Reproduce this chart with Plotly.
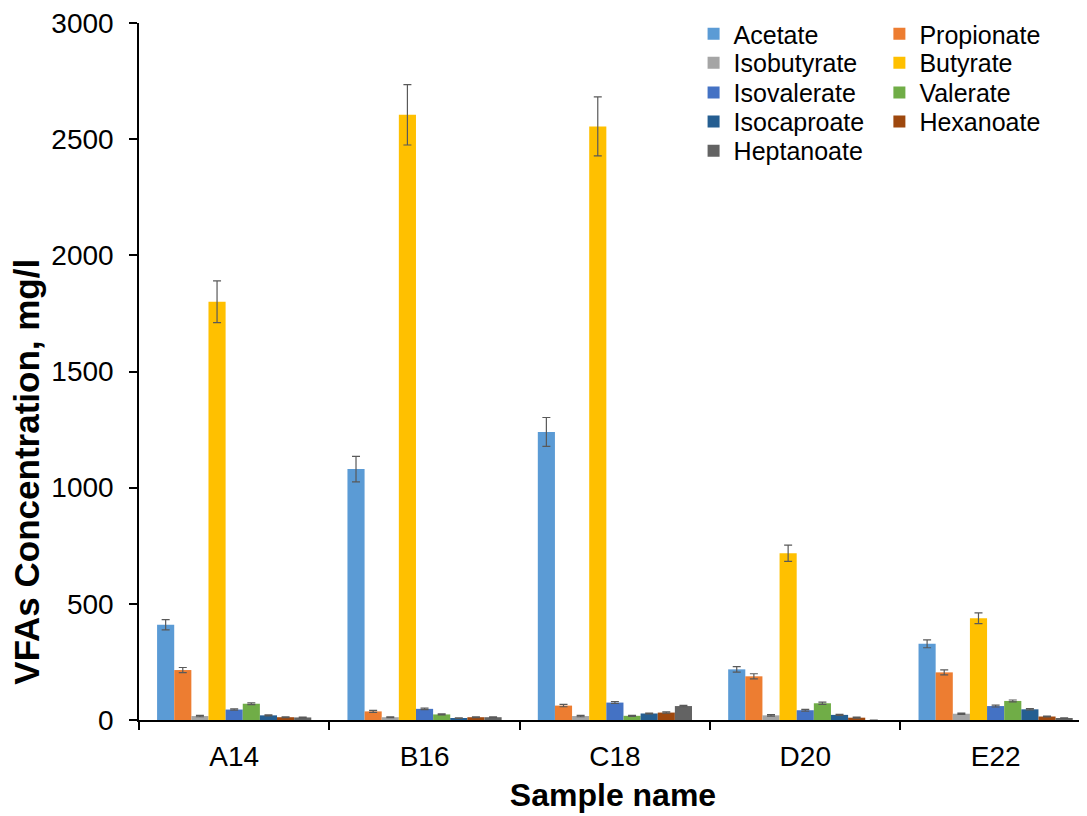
import plotly.graph_objects as go

samples = ["A14", "B16", "C18", "D20", "E22"]

acetate = [410, 1080, 1240, 218, 328]
propionate = [215, 37, 62, 188, 205]
isobutyrate = [17, 12, 17, 20, 27]
butyrate = [1800, 2605, 2555, 718, 438]
isovalerate = [45, 48, 75, 42, 60]
valerate = [70, 24, 18, 72, 82]
isocaproate = [20, 8, 28, 22, 46]
hexanoate = [12, 12, 32, 10, 15]
heptanoate = [11, 12, 60, 0, 8]

acetate_err = [22, 55, 62, 12, 17]
propionate_err = [11, 4, 5, 11, 11]
isobutyrate_err = [3, 2, 3, 3, 3]
butyrate_err = [90, 130, 127, 35, 23]
isovalerate_err = [3, 3, 4, 4, 4]
valerate_err = [4, 2, 2, 5, 4]
isocaproate_err = [2, 1, 2, 2, 3]
hexanoate_err = [2, 2, 3, 2, 2]
heptanoate_err = [2, 2, 3, 0, 1]

series_names = ["Acetate", "Propionate", "Isobutyrate", "Butyrate", "Isovalerate",
                "Valerate", "Isocaproate", "Hexanoate", "Heptanoate"]
series_values = [acetate, propionate, isobutyrate, butyrate, isovalerate,
                 valerate, isocaproate, hexanoate, heptanoate]
series_errors = [acetate_err, propionate_err, isobutyrate_err, butyrate_err, isovalerate_err,
                 valerate_err, isocaproate_err, hexanoate_err, heptanoate_err]
series_colors = ["#5B9BD5", "#ED7D31", "#A5A5A5", "#FFC000", "#4472C4",
                 "#70AD47", "#255E91", "#9E480E", "#636363"]

y_title = "VFAs Concentration, mg/l"
x_title = "Sample name"

# legend layout: two columns, rows top to bottom
legend_col_x = [0.585, 0.781]
legend_row_y = [0.9842, 0.9427, 0.9001, 0.8585, 0.8165]

fig = go.Figure()
layout_legends = {}
for i, (name, vals, errs, color) in enumerate(zip(series_names, series_values,
                                                  series_errors, series_colors)):
    key = "legend" if i == 0 else f"legend{i + 1}"
    fig.add_trace(go.Bar(
        name=name, x=samples, y=vals,
        marker=dict(color=color, line=dict(width=0)),
        error_y=dict(type="data", array=errs, visible=True,
                     color="#595959", thickness=1.2, width=4),
        legend=key, showlegend=True,
    ))
    layout_legends[key] = dict(
        x=legend_col_x[i % 2], y=legend_row_y[i // 2],
        xanchor="left", yanchor="middle",
        font=dict(size=25), bgcolor="rgba(0,0,0,0)", itemwidth=30,
    )

font_family = "Liberation Sans, Arial, sans-serif"
# the page body adds an 8px offset, so the figure is sized to the remaining window
fig.update_layout(
    width=1079, height=808,
    margin=dict(l=131, r=0, t=15, b=95.5, autoexpand=False),
    showlegend=True,
    paper_bgcolor="white", plot_bgcolor="white",
    barmode="group", bargap=0.19, bargroupgap=0,
    font=dict(family=font_family, size=28, color="black"),
    xaxis=dict(
        title=dict(text=f"<b>{x_title}</b>", font=dict(size=32), standoff=12),
        range=[-0.5, 4.48], automargin=False,
        showline=True, linecolor="black", linewidth=1.5,
        ticks="outside", tickson="boundaries", ticklen=8, tickcolor="black",
        tickwidth=1.5, showgrid=False, tickfont=dict(size=28),
        ticklabelstandoff=11, ticklabeloverflow="allow",
    ),
    yaxis=dict(
        range=[0, 3000], tickvals=[0, 500, 1000, 1500, 2000, 2500, 3000],
        automargin=False,
        showline=True, linecolor="black", linewidth=1.5,
        ticks="outside", ticklen=8, tickcolor="black", tickwidth=1.5,
        showgrid=False, zeroline=False, tickfont=dict(size=28),
        ticklabelstandoff=10, ticklabeloverflow="allow",
    ),
    annotations=[dict(
        text=f"<b>{y_title}</b>", textangle=-90, showarrow=False,
        xref="paper", yref="paper", x=-0.1181, y=0.3563,
        xanchor="center", yanchor="middle",
        font=dict(size=35, family=font_family, color="black"),
    )],
    **layout_legends,
)

fig.write_html("out.html")
